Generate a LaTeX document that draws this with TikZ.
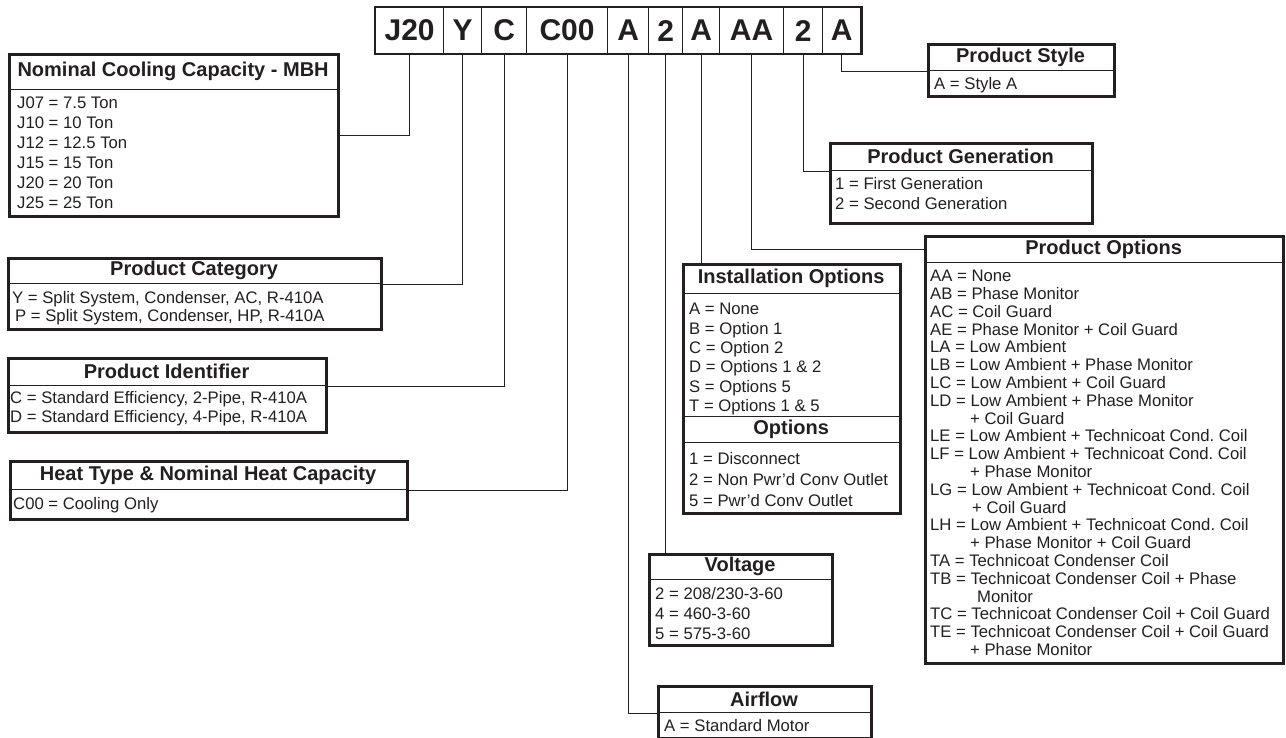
\documentclass[tikz,border=0pt]{standalone}
\usepackage{fontspec}
\setmainfont{Liberation Sans}
\frenchspacing
\definecolor{ink}{RGB}{35,31,32}
\tikzset{
  cell/.style={draw=ink, text=ink, line width=1.2pt, anchor=north west, minimum height=46pt, inner sep=0pt, font=\fontsize{30}{30}\selectfont\bfseries},
  frame/.style={draw=ink, line width=2.6pt, anchor=north west, inner sep=0pt},
  head/.style={draw=ink, text=ink, line width=1.2pt, anchor=north west, inner sep=0pt, font=\fontsize{20}{24}\selectfont\bfseries},
  body/.style={anchor=north west, inner sep=0pt, align=left, text=ink, font=\fontsize{16.7}{20}\selectfont},
  link/.style={draw=ink, line width=1pt}
}
\begin{document}
\begin{tikzpicture}[x=1pt,y=-1pt]
  \useasboundingbox (0,0) rectangle (1286,738);

  % model number
  \foreach \x/\w/\t [count=\i] in {375/68pt/J20,443/38pt/Y,481/45pt/C,526/81pt/C00,607/41pt/A,648/34pt/2,682/37pt/A,719/64pt/AA,783/39pt/2,822/38pt/A}
    \node[cell, minimum width=\w] (c\i) at (\x,7) {\t};
  \draw[ink, line width=2.6pt] (c1.north west) rectangle (c10.south east);

  % Nominal cooling capacity
  \node[frame, minimum width=329pt, minimum height=162pt] (nom) at (8,53) {};
  \node[head, minimum width=329pt, minimum height=36pt] (nomT) at (8,53) {Nominal Cooling Capacity - MBH};
  \node[body] (nomL) at (17,97) {J07 = 7.5 Ton\\J10 = 10 Ton\\J12 = 12.5 Ton\\J15 = 15 Ton\\J20 = 20 Ton\\J25 = 25 Ton};
  \draw[link] (c1.south) |- (nom.east);

  % Product category
  \node[frame, minimum width=373pt, minimum height=71pt] (cat) at (7,257) {};
  \node[head, minimum width=373pt, minimum height=26pt] (catT) at (7,257) {Product Category};
  \node[body, font=\fontsize{16.7}{18}\selectfont] (catL) at (12,291) {Y = Split System, Condenser, AC, R-410A\\\hspace*{3pt}P = Split System, Condenser, HP, R-410A};
  \draw[link] (c2.south) |- (catT.south east);

  % Product identifier
  \node[frame, minimum width=318pt, minimum height=74pt] (pid) at (7,357) {};
  \node[head, minimum width=318pt, minimum height=28pt] (pidT) at (7,357) {Product Identifier};
  \node[body, font=\fontsize{16.7}{19}\selectfont] (pidL) at (10,391) {C = Standard Efficiency, 2-Pipe, R-410A\\D = Standard Efficiency, 4-Pipe, R-410A};
  \draw[link] (c3.south) |- (pidT.south east);

  % Heat type
  \node[frame, minimum width=397pt, minimum height=58pt] (heat) at (9,460) {};
  \node[head, minimum width=397pt, minimum height=29pt] (heatT) at (9,460) {Heat Type \& Nominal Heat Capacity};
  \node[body] (heatL) at (13,497) {C00 = Cooling Only};
  \draw[link] (c4.south) |- (heatT.south east);

  % Airflow
  \node[frame, minimum width=213pt, minimum height=52pt] (air) at (657,685) {};
  \node[head, minimum width=213pt, minimum height=27pt] (airT) at (657,685) {Airflow};
  \node[body] (airL) at (664,719) {A = Standard Motor};
  \draw[link] (c5.south) |- (airT.south west);

  % Voltage
  \node[frame, minimum width=183pt, minimum height=91pt] (vol) at (648,553) {};
  \node[head, minimum width=183pt, minimum height=26pt] (volT) at (648,553) {Voltage};
  \node[body] (volL) at (655,587) {2 = 208/230-3-60\\4 = 460-3-60\\5 = 575-3-60};
  \draw[link] (c6.south) -- (c6.south |- vol.north);

  % Installation options
  \node[frame, minimum width=217pt, minimum height=249pt] (ins) at (682,263) {};
  \node[head, minimum width=217pt, minimum height=30pt] (insT) at (682,263) {Installation Options};
  \node[body, font=\fontsize{16.7}{19.4}\selectfont] (insL) at (689,303) {A = None\\B = Option 1\\C = Option 2\\D = Options 1 \& 2\\S = Options 5\\T = Options 1 \& 5};
  \node[head, minimum width=217pt, minimum height=26pt] (optsT) at (682,416) {Options};
  \node[body, font=\fontsize{16.7}{21}\selectfont] (optsL) at (689,452) {1 = Disconnect\\2 = Non Pwr'd Conv Outlet\\5 = Pwr'd Conv Outlet};
  \draw[link] (c7.south) -- (c7.south |- ins.north);

  % Product options
  \node[frame, minimum width=358pt, minimum height=427pt] (opt) at (924,235) {};
  \node[head, minimum width=358pt, minimum height=27pt] (optT) at (924,235) {Product Options};
  \node[body, font=\fontsize{16.7}{17.8}\selectfont] (optL) at (930,270) {AA = None\\AB = Phase Monitor\\AC = Coil Guard\\AE = Phase Monitor + Coil Guard\\LA = Low Ambient\\LB = Low Ambient + Phase Monitor\\LC = Low Ambient + Coil Guard\\LD = Low Ambient + Phase Monitor\\\hspace*{40pt}+ Coil Guard\\LE = Low Ambient + Technicoat Cond. Coil\\LF = Low Ambient + Technicoat Cond. Coil\\\hspace*{40pt}+ Phase Monitor\\LG = Low Ambient + Technicoat Cond. Coil\\\hspace*{42pt}+ Coil Guard\\LH = Low Ambient + Technicoat Cond. Coil\\\hspace*{40pt}+ Phase Monitor + Coil Guard\\TA = Technicoat Condenser Coil\\TB = Technicoat Condenser Coil + Phase\\\hspace*{47pt}Monitor\\TC = Technicoat Condenser Coil + Coil Guard\\TE = Technicoat Condenser Coil + Coil Guard\\\hspace*{40pt}+ Phase Monitor};
  \draw[link] (c8.south) |- (optT.west);

  % Product generation
  \node[frame, minimum width=262pt, minimum height=80pt] (gen) at (829,142) {};
  \node[head, minimum width=262pt, minimum height=28pt] (genT) at (829,142) {Product Generation};
  \node[body] (genL) at (835,177) {1 = First Generation\\2 = Second Generation};
  \draw[link] (c9.south) |- (genT.south west);

  % Product style
  \node[frame, minimum width=186pt, minimum height=52pt] (sty) at (927,43) {};
  \node[head, minimum width=186pt, minimum height=27pt] (styT) at (927,43) {Product Style};
  \node[body] (styL) at (934,77) {A = Style A};
  \draw[link] (c10.south) |- (styT.south west);
\end{tikzpicture}
\end{document}
